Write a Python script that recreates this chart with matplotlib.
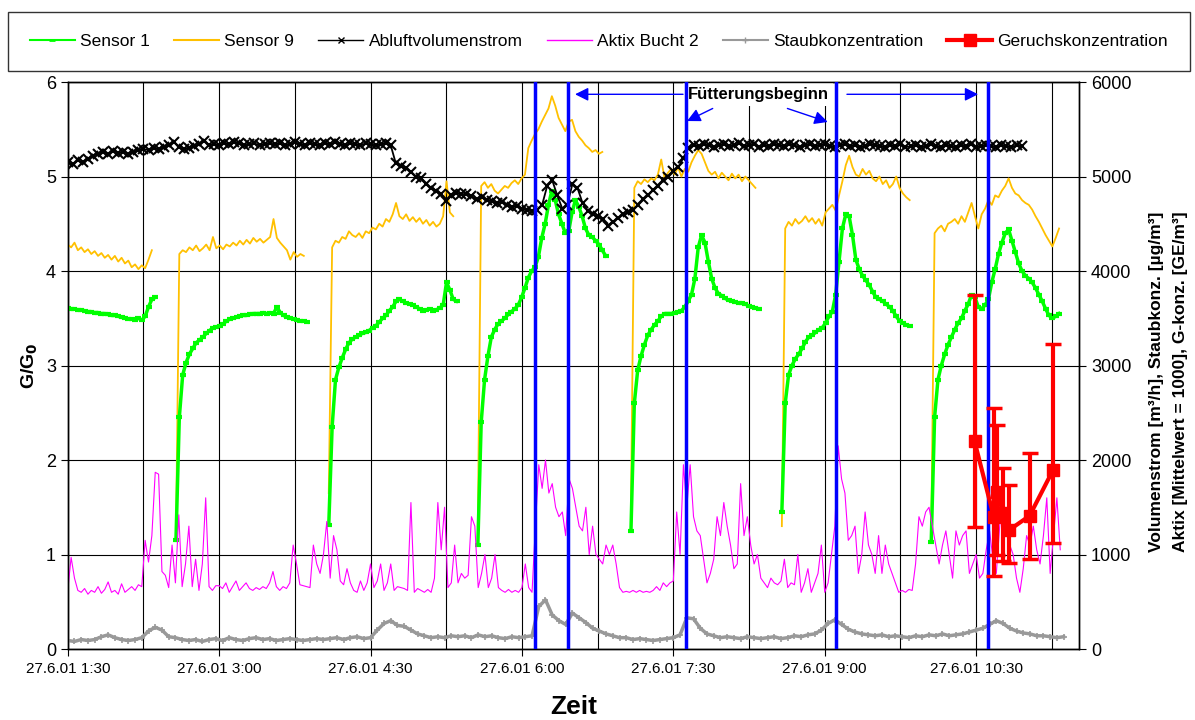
import numpy as np
import matplotlib
matplotlib.use("Agg")
import matplotlib.pyplot as plt
from matplotlib.lines import Line2D

plt.rcParams['font.family'] = ['Liberation Sans', 'DejaVu Sans']

# time axis in hours of 27.6.01
tick_hours = [1.5, 3.0, 4.5, 6.0, 7.5, 9.0, 10.5]
tick_labels = ["27.6.01 1:30", "27.6.01 3:00", "27.6.01 4:30", "27.6.01 6:00",
               "27.6.01 7:30", "27.6.01 9:00", "27.6.01 10:30"]

# start of each sensor measurement cycle [h], values every 2 min
cycle_start = [1.5, 2.572, 4.086, 5.563, 7.08, 8.575, 10.055]

sensor1 = [
    [3.61, 3.60, 3.60, 3.59, 3.59, 3.58, 3.57, 3.57, 3.56, 3.56, 3.55, 3.55, 3.54, 3.53,
     3.53, 3.52, 3.51, 3.50, 3.49, 3.49, 3.48, 3.50, 3.48, 3.52, 3.62, 3.70, 3.72],
    [1.15, 2.45, 2.90, 3.03, 3.12, 3.18, 3.24, 3.27, 3.30, 3.34, 3.37, 3.40, 3.41, 3.42,
     3.44, 3.47, 3.49, 3.50, 3.51, 3.52, 3.53, 3.53, 3.54, 3.55, 3.55, 3.55, 3.56, 3.55,
     3.56, 3.55, 3.62, 3.56, 3.53, 3.51, 3.50, 3.49, 3.48, 3.47, 3.47, 3.46],
    [1.31, 2.35, 2.85, 2.98, 3.08, 3.17, 3.24, 3.28, 3.30, 3.32, 3.34, 3.35, 3.37, 3.40,
     3.42, 3.46, 3.50, 3.53, 3.58, 3.62, 3.68, 3.70, 3.68, 3.66, 3.65, 3.64, 3.62, 3.60,
     3.58, 3.59, 3.60, 3.58, 3.59, 3.61, 3.64, 3.88, 3.80, 3.70, 3.68],
    [1.10, 2.40, 2.85, 3.10, 3.30, 3.38, 3.44, 3.47, 3.50, 3.54, 3.57, 3.60, 3.64, 3.72,
     3.82, 3.93, 4.00, 4.04, 4.15, 4.35, 4.50, 4.70, 4.85, 4.75, 4.60, 4.50, 4.40, 4.42,
     4.62, 4.75, 4.68, 4.58, 4.45, 4.38, 4.36, 4.32, 4.28, 4.22, 4.16],
    [1.25, 2.60, 2.95, 3.10, 3.22, 3.32, 3.38, 3.43, 3.47, 3.52, 3.55, 3.55, 3.55, 3.56,
     3.57, 3.58, 3.62, 3.68, 3.75, 3.92, 4.25, 4.38, 4.30, 4.10, 3.92, 3.82, 3.76, 3.74,
     3.71, 3.69, 3.68, 3.67, 3.66, 3.66, 3.65, 3.63, 3.62, 3.61, 3.60],
    [1.45, 2.60, 2.90, 3.00, 3.07, 3.12, 3.18, 3.25, 3.30, 3.32, 3.35, 3.38, 3.40, 3.45,
     3.52, 3.57, 3.75, 4.10, 4.45, 4.60, 4.58, 4.38, 4.12, 4.02, 3.95, 3.90, 3.85, 3.78,
     3.72, 3.70, 3.68, 3.65, 3.62, 3.58, 3.52, 3.47, 3.45, 3.43, 3.42],
    [1.13, 2.45, 2.85, 3.00, 3.12, 3.22, 3.30, 3.38, 3.45, 3.50, 3.58, 3.65, 3.75, 3.72,
     3.62, 3.60, 3.64, 3.70, 3.88, 4.02, 4.18, 4.30, 4.40, 4.44, 4.32, 4.20, 4.08, 4.00,
     3.95, 3.92, 3.88, 3.82, 3.75, 3.68, 3.60, 3.53, 3.50, 3.52, 3.55],
]

sensor9 = [
    [4.28, 4.25, 4.30, 4.22, 4.25, 4.20, 4.23, 4.18, 4.21, 4.16, 4.19, 4.14, 4.17, 4.12,
     4.16, 4.10, 4.14, 4.08, 4.11, 4.04, 4.07, 4.02, 4.06, 4.03, 4.12, 4.22],
    [1.18, 4.18, 4.22, 4.20, 4.25, 4.22, 4.27, 4.21, 4.24, 4.28, 4.22, 4.36, 4.24, 4.27,
     4.23, 4.28, 4.26, 4.30, 4.27, 4.32, 4.28, 4.33, 4.29, 4.35, 4.31, 4.34, 4.30, 4.33,
     4.36, 4.55, 4.35, 4.30, 4.26, 4.22, 4.12, 4.20, 4.15, 4.18, 4.16],
    [1.65, 4.25, 4.32, 4.30, 4.36, 4.34, 4.42, 4.38, 4.36, 4.40, 4.35, 4.42, 4.40, 4.46,
     4.44, 4.50, 4.47, 4.55, 4.52, 4.60, 4.72, 4.58, 4.55, 4.60, 4.53, 4.57, 4.52, 4.56,
     4.50, 4.54, 4.48, 4.52, 4.47, 4.50, 4.58, 4.95, 4.62, 4.58],
    [1.30, 4.90, 4.94, 4.88, 4.92, 4.85, 4.82, 4.86, 4.90, 4.88, 4.93, 4.96, 4.92, 4.98,
     5.02, 5.30, 5.38, 5.45, 5.50, 5.58, 5.65, 5.72, 5.85, 5.75, 5.62, 5.55, 5.48, 5.58,
     5.60, 5.48, 5.42, 5.38, 5.33, 5.30, 5.26, 5.28, 5.24, 5.26],
    [1.45, 4.88, 4.95, 4.92, 4.97, 4.94, 4.98, 4.96, 5.02, 5.18, 4.98, 5.04, 5.08, 5.02,
     5.10, 5.00, 5.08, 5.05, 5.15, 5.22, 5.28, 5.24, 5.15, 5.06, 5.02, 5.05, 4.98, 5.04,
     5.00, 4.96, 5.03, 4.98, 5.02, 4.95, 5.00, 4.96, 4.92, 4.88],
    [1.30, 4.45, 4.52, 4.48, 4.55, 4.50, 4.53, 4.58, 4.52, 4.56, 4.50, 4.55, 4.48, 4.62,
     4.66, 4.70, 4.64, 4.80, 4.95, 5.12, 5.22, 5.10, 5.02, 5.00, 5.08, 5.02, 5.06, 4.98,
     4.95, 5.00, 4.92, 4.96, 4.88, 4.92, 5.00, 4.88, 4.82, 4.78, 4.75],
    [1.20, 4.40, 4.45, 4.48, 4.42, 4.50, 4.52, 4.55, 4.50, 4.58, 4.52, 4.62, 4.72, 4.58,
     4.45, 4.60, 4.66, 4.75, 4.70, 4.80, 4.78, 4.85, 4.90, 4.98, 4.88, 4.82, 4.80, 4.75,
     4.72, 4.70, 4.65, 4.58, 4.52, 4.45, 4.38, 4.32, 4.26, 4.35, 4.45],
]

# exhaust air flow [m3/h], every 3 min from 1:30
abluft = [
    5150, 5130, 5170, 5150, 5190, 5220, 5240, 5260, 5240, 5270, 5250, 5260, 5240, 5260,
    5280, 5290, 5280, 5300, 5290, 5310, 5330, 5370, 5310, 5290, 5300, 5320, 5340, 5380,
    5330, 5340, 5330, 5350, 5340, 5360, 5350, 5330, 5340, 5350, 5330, 5340, 5350, 5340,
    5350, 5330, 5340, 5360, 5340, 5330, 5350, 5340, 5330, 5350, 5340, 5360, 5340, 5330,
    5350, 5340, 5330, 5350, 5340, 5330, 5340, 5350, 5330, 5140, 5110, 5090, 5050, 5000,
    4980, 4920, 4880, 4850, 4820, 4740, 4800, 4830, 4810, 4820, 4790, 4760, 4780, 4750,
    4740, 4720, 4730, 4700, 4680, 4690, 4660, 4650, 4640, 4650, 4700, 4900, 4960, 4800,
    4660, 4700, 4920, 4880, 4720, 4640, 4600, 4580, 4550, 4480, 4520, 4560, 4600, 4620,
    4650, 4700, 4760, 4800, 4860, 4900, 4960, 5000, 5060, 5100, 5200, 5300, 5330, 5320,
    5340, 5330, 5310, 5330, 5340, 5320, 5330, 5350, 5320, 5330, 5340, 5310, 5330, 5320,
    5340, 5330, 5320, 5340, 5330, 5310, 5330, 5340, 5320, 5330, 5340, 5320, 5310, 5330,
    5340, 5320, 5330, 5310, 5320, 5340, 5330, 5320, 5310, 5330, 5320, 5340, 5310, 5320,
    5330, 5310, 5320, 5340, 5320, 5310, 5330, 5320, 5310, 5330, 5320, 5340, 5310, 5320,
    5330, 5320, 5310, 5330, 5320, 5310, 5330, 5320,
]

# Aktix pen 2 (mean = 1000), every 2 min from 1:30
aktix = [
    620, 970, 750, 620, 600, 640, 580, 620, 600, 660, 590, 630, 710, 600, 620, 580,
    690, 600, 630, 660, 620, 680, 660, 1150, 920, 1200, 1870, 1850, 820, 780, 650, 1100,
    700, 1420, 660, 900, 1300, 660, 950, 620, 900, 1600, 660, 620, 670, 670, 640, 700,
    600, 660, 720, 620, 660, 700, 640, 620, 650, 630, 660, 640, 700, 820, 660, 620,
    660, 640, 700, 1100, 900, 680, 670, 660, 650, 1100, 900, 800, 1000, 1350, 750, 1200,
    1050, 720, 680, 850, 700, 620, 600, 720, 620, 700, 900, 650, 720, 900, 620, 700,
    900, 620, 660, 650, 640, 620, 1550, 600, 640, 620, 600, 630, 600, 750, 1550, 1050,
    1500, 650, 700, 1100, 700, 800, 750, 780, 1400, 1300, 650, 800, 1000, 650, 750, 1000,
    650, 620, 600, 630, 600, 620, 600, 650, 900, 650, 600, 1300, 1950, 1700, 2000, 1650,
    1750, 1500, 1400, 1450, 1200, 1800, 1700, 1500, 1300, 1250, 1500, 1000, 1300, 1000, 950, 900,
    1100, 1000, 1100, 900, 650, 600, 610, 600, 620, 600, 620, 600, 610, 600, 620, 660,
    620, 700, 660, 700, 720, 1450, 1000, 1950, 1500, 1950, 1400, 1250, 1200, 950, 700, 800,
    950, 1400, 1200, 1550, 1300, 1100, 850, 900, 1750, 1200, 1400, 1100, 900, 1000, 750, 700,
    650, 750, 700, 680, 720, 950, 650, 700, 680, 1000, 600, 700, 850, 600, 700, 800,
    1100, 600, 700, 1000, 1300, 2150, 1800, 1650, 1150, 1200, 1300, 800, 1000, 1450, 1100, 1000,
    800, 1200, 800, 1100, 900, 800, 700, 600, 620, 600, 630, 620, 900, 1400, 1300, 1450,
    1500, 1300, 1100, 900, 1100, 1250, 1000, 750, 1250, 1100, 1200, 1250, 800, 900, 1000, 750,
    800, 1050, 1250, 950, 800, 1300, 1700, 1250, 1100, 1000, 750, 600, 850, 1200, 1100, 1300,
    1050, 900, 1200, 1600, 800, 1200, 1600, 1050,
]

# dust concentration [ug/m3], every 4 min from 1:30
staub = [
    90, 80, 100, 90, 100, 130, 150, 120, 100, 90, 100, 120, 190, 230, 200, 130,
    120, 100, 90, 100, 80, 100, 110, 90, 120, 100, 90, 110, 120, 100, 110, 90,
    100, 110, 100, 90, 100, 110, 100, 110, 120, 100, 120, 130, 110, 120, 200, 270,
    300, 250, 240, 200, 160, 140, 120, 130, 120, 140, 130, 140, 120, 150, 130, 140,
    120, 110, 130, 120, 130, 140, 450, 520, 360, 300, 260, 380, 330, 280, 220, 190,
    160, 140, 120, 120, 100, 110, 100, 90, 100, 110, 120, 150, 330, 320, 220, 160,
    140, 120, 130, 120, 110, 130, 120, 110, 120, 130, 110, 120, 140, 130, 150, 160,
    200, 270, 310, 260, 210, 180, 160, 150, 140, 150, 130, 140, 130, 120, 140, 130,
    150, 140, 160, 140, 150, 160, 180, 200, 220, 260, 300, 270, 220, 190, 170, 160,
    140, 140, 130, 120, 130,
]

# odour concentration [GE/m3] with min/max
geruch_t = [10.484, 10.674, 10.707, 10.766, 10.829, 11.03, 11.26]
geruch = [2200, 1400, 1660, 1440, 1260, 1410, 1890]
geruch_min = [1290, 770, 1000, 930, 910, 950, 1120]
geruch_max = [3750, 2550, 2370, 1920, 1740, 2070, 3230]

# start of feeding [h]
feeding = [6.133, 6.454, 7.626, 9.112, 10.62]


def join_cycles(starts, cycles, step):
    t, v = [], []
    for t0, vals in zip(starts, cycles):
        t.extend(t0 + step * np.arange(len(vals)))
        v.extend(vals)
        t.append(np.nan)
        v.append(np.nan)
    return np.array(t), np.array(v)


t_s1, v_s1 = join_cycles(cycle_start, sensor1, 2 / 60)
t_s9, v_s9 = join_cycles(cycle_start, sensor9, 2 / 60)
t_ab = 1.5 + 3 / 60 * np.arange(len(abluft))
t_ak = 1.5 + 2 / 60 * np.arange(len(aktix))
t_st = 1.5 + 4 / 60 * np.arange(len(staub))

fig = plt.figure(figsize=(11.95, 7.2), dpi=100)
ax = fig.add_axes([0.0567, 0.0986, 0.8463, 0.7875])
ax2 = ax.twinx()

ax.set_xlim(1.5, 11.52)
ax.set_ylim(0, 6)
ax2.set_ylim(0, 6000)

# grid every 45 min and every unit
ax.set_xticks(tick_hours)
ax.set_xticks(np.arange(2.25, 11.5, 1.5), minor=True)
ax.set_xticklabels(tick_labels, fontsize=11)
ax.tick_params(axis='x', which='minor', length=0)
ax.tick_params(axis='x', which='major', length=5, direction='out', pad=4)
ax.grid(True, which='both', color='black', lw=0.8)
ax.set_axisbelow(True)
ax.set_yticks(range(0, 7))
ax.tick_params(axis='y', labelsize=13, length=5)
ax2.set_yticks(range(0, 7000, 1000))
ax2.tick_params(axis='y', labelsize=13, length=5)
for a in (ax, ax2):
    for s in a.spines.values():
        s.set_linewidth(1.0)

ax.plot(t_s9, v_s9, color='#FFC000', lw=1.3, zorder=3)
ax.plot(t_s1, v_s1, color='#00FF00', lw=2.5, marker='_', ms=5, mew=3, zorder=4)

ax2.plot(t_ak, aktix, color='#FF00FF', lw=0.8, zorder=2)
ax2.plot(t_st, staub, color='#999999', lw=2.5, marker='+', ms=5, mew=1.2, zorder=2)
ax2.plot(t_ab, abluft, color='black', lw=1.3, marker='x', ms=7, mew=1.5, zorder=3)
for f in feeding:
    ax2.axvline(f, color='#0000FF', lw=2.5, zorder=4)
g = np.array(geruch)
ax2.errorbar(geruch_t, geruch,
             yerr=[g - np.array(geruch_min), np.array(geruch_max) - g],
             color='#FF0000', lw=3, marker='s', ms=9, elinewidth=3,
             capsize=6, capthick=2.5, zorder=5)

# feeding annotation
ax.text(8.34, 5.87, "Fütterungsbeginn", fontsize=12, fontweight='bold',
        ha='center', va='center', zorder=6,
        bbox=dict(facecolor='white', edgecolor='none', pad=3))
arrow = dict(arrowstyle='-|>', color='#0000FF', lw=1.0, mutation_scale=20,
             shrinkA=0, shrinkB=0)
ax.annotate("", xy=(6.526, 5.87), xytext=(7.596, 5.87), arrowprops=arrow, zorder=6)
ax.annotate("", xy=(10.52, 5.87), xytext=(9.22, 5.87), arrowprops=arrow, zorder=6)
ax.annotate("", xy=(7.636, 5.587), xytext=(7.89, 5.72), arrowprops=arrow, zorder=6)
ax.annotate("", xy=(9.03, 5.577), xytext=(8.63, 5.72), arrowprops=arrow, zorder=6)

ax.set_ylabel("G/G$_\\mathbf{0}$", fontsize=14, fontweight='bold', labelpad=4)
ax.set_xlabel("Zeit", fontsize=19, fontweight='bold', labelpad=14)
fig.text(0.968, 0.47, "Volumenstrom [m³/h], Staubkonz. [µg/m³]", rotation=90,
         ha='center', va='center', fontsize=12.5, fontweight='bold')
fig.text(0.988, 0.47, "Aktix [Mittelwert = 1000], G-konz. [GE/m³]", rotation=90,
         ha='center', va='center', fontsize=12.5, fontweight='bold')

handles = [
    Line2D([], [], color='#00FF00', lw=1.5, marker='_', ms=5, mew=2),
    Line2D([], [], color='#FFC000', lw=1.5),
    Line2D([], [], color='black', lw=1.0, marker='x', ms=5),
    Line2D([], [], color='#FF00FF', lw=1.0),
    Line2D([], [], color='#999999', lw=1.5, marker='+', ms=4),
    Line2D([], [], color='#FF0000', lw=3, marker='s', ms=8),
]
labels = ["Sensor 1", "Sensor 9", "Abluftvolumenstrom", "Aktix Bucht 2",
          "Staubkonzentration", "Geruchskonzentration"]
leg = fig.legend(handles, labels, loc='center', ncol=6, mode='expand',
                 bbox_to_anchor=(0.0067, 0.942, 0.989, 0.0), fontsize=12.5,
                 frameon=True, fancybox=False, edgecolor='black',
                 handlelength=2.6, handletextpad=0.3, borderaxespad=0,
                 borderpad=1.25)
leg.get_frame().set_linewidth(1.0)

fig.savefig("out.png", dpi=100)
